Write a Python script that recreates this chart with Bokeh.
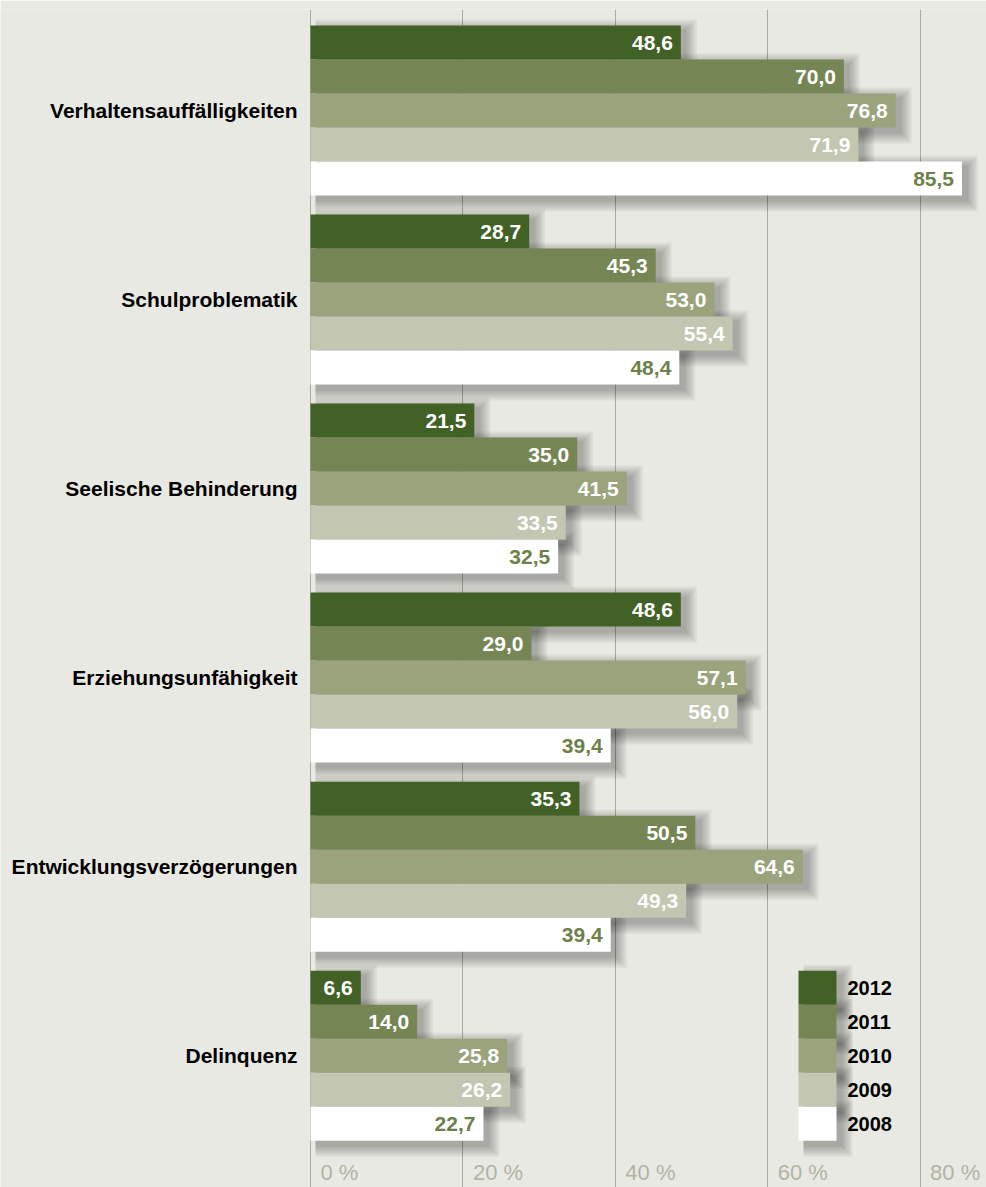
from bokeh.plotting import figure
from bokeh.models import Range1d, FixedTicker, ColumnDataSource
from bokeh.core.properties import value
from bokeh.embed import file_html
from bokeh.resources import INLINE

# ---- data ----
categories = ["Verhaltensauffälligkeiten", "Schulproblematik", "Seelische Behinderung",
              "Erziehungsunfähigkeit", "Entwicklungsverzögerungen", "Delinquenz"]
years = ["2012", "2011", "2010", "2009", "2008"]
v2012 = [48.6, 28.7, 21.5, 48.6, 35.3, 6.6]
v2011 = [70.0, 45.3, 35.0, 29.0, 50.5, 14.0]
v2010 = [76.8, 53.0, 41.5, 57.1, 64.6, 25.8]
v2009 = [71.9, 55.4, 33.5, 56.0, 49.3, 26.2]
v2008 = [85.5, 48.4, 32.5, 39.4, 39.4, 22.7]
tick_values = [0, 20, 40, 60, 80]
tick_labels = ["0 %", "20 %", "40 %", "60 %", "80 %"]

series = [v2012, v2011, v2010, v2009, v2008]
colors = ["#426126", "#758654", "#9aa37c", "#c3c6b0", "#ffffff"]
label_colors = ["white", "white", "white", "white", "#6e8049"]

# ---- layout ----
BG = "#e9e9e3"
W, H = 986, 1187
TOP = 9                     # border above the frame
FH = H - TOP                # frame height
PX_X = 7.62                 # px per percent
PX_Y = 34.0                 # px per bar
ZERO_PX = 310               # x position of 0 %
GROUP_GAP = 0.56            # gap between groups, in bar heights
X0 = -ZERO_PX / PX_X
X1 = (W - ZERO_PX) / PX_X
Y_TOP = -0.5 - 16 / PX_Y
Y_BOTTOM = Y_TOP + FH / PX_Y
FONT = value("Liberation Sans")

p = figure(width=W, height=H, x_range=Range1d(X0, X1), y_range=Range1d(Y_BOTTOM, Y_TOP),
           output_backend="svg", toolbar_location=None, min_border=0,
           min_border_top=TOP,
           background_fill_color=BG, border_fill_color=BG, outline_line_color=None)
p.xaxis.visible = False
p.yaxis.visible = False
p.ygrid.visible = False
p.xgrid.ticker = FixedTicker(ticks=tick_values)
p.xgrid.grid_line_color = "#a9ab9d"
p.xgrid.grid_line_width = 1

stride = len(years) + GROUP_GAP

# build bar table
ys, vals, cols, lcols, texts = [], [], [], [], []
for g in range(len(categories)):
    for k in range(len(years)):
        v = series[k][g]
        ys.append(g * stride + k)
        vals.append(v)
        cols.append(colors[k])
        lcols.append(label_colors[k])
        texts.append(f"{v:.1f}".replace(".", ","))
src = ColumnDataSource(dict(y=ys, v=vals, c=cols, lc=lcols, t=texts))

# legend rows aligned with last group
leg_y = [(len(categories) - 1) * stride + k for k in range(len(years))]
LEG_L, LEG_R = (798 - ZERO_PX) / PX_X, (836 - ZERO_PX) / PX_X

# soft drop shadows
OX, OY = 5, 5
for e in [11, 9, 7, 5, 3, 1]:
    sh = ColumnDataSource(dict(y=[y + OY / PX_Y for y in ys],
                               l=[OX / PX_X] * len(ys),
                               r=[v + (OX + e) / PX_X for v in vals]))
    p.hbar(y="y", left="l", right="r", height=1 + 2 * e / PX_Y, source=sh,
           fill_color="black", fill_alpha=0.05, line_color=None)
    p.hbar(y=[y + OY / PX_Y for y in leg_y], left=LEG_L + OX / PX_X,
           right=LEG_R + (OX + e) / PX_X, height=1 + 2 * e / PX_Y,
           fill_color="black", fill_alpha=0.05, line_color=None)

# bars
p.hbar(y="y", left=0, right="v", height=1.0, source=src, fill_color="c", line_color=None)
p.text(x="v", y="y", text="t", source=src, x_offset=-8, text_align="right",
       text_baseline="middle", text_color="lc", text_font=FONT,
       text_font_size="21px", text_font_style="bold")

# category labels
p.text(x=[0] * len(categories), y=[g * stride + 2 for g in range(len(categories))],
       text=categories, x_offset=-13, text_align="right", text_baseline="middle",
       text_color="black", text_font=FONT, text_font_size="21px", text_font_style="bold")

# tick labels
p.text(x=tick_values, y=[Y_BOTTOM] * len(tick_values), text=tick_labels, x_offset=10,
       y_offset=-3, text_align="left", text_baseline="bottom", text_color="#b1b4a3",
       text_font=FONT, text_font_size="22px")

# legend
p.hbar(y=leg_y, left=LEG_L, right=LEG_R, height=1.0, fill_color=colors, line_color=None)
p.text(x=[LEG_R] * len(years), y=leg_y, text=years, x_offset=11, text_align="left",
       text_baseline="middle", text_color="black", text_font=FONT,
       text_font_size="20px", text_font_style="bold")

open("out.html", "w").write(file_html(p, INLINE))
